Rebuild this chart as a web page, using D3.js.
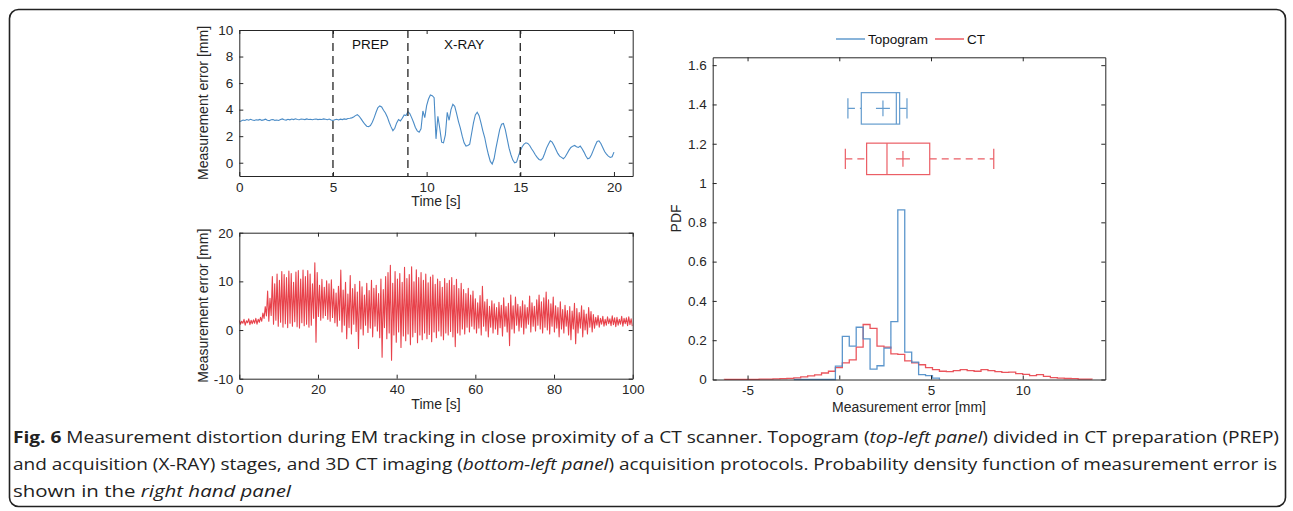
<!DOCTYPE html>
<html><head><meta charset="utf-8">
<script src="https://cdn.jsdelivr.net/npm/d3@7"></script>
<style>
html,body{margin:0;padding:0;background:#fff;}
svg{display:block;font-family:"Liberation Sans",Arial,Helvetica,sans-serif;}
</style></head>
<body><svg id="fig" width="1293" height="511"></svg>
<script>
// ---------------- DATA ----------------
// Top-left: topogram measurement error [mm], sampled every 0.1 s from 0 to 20 s
const topoDt = 0.1;
const topoValues = [
3.10,3.15,3.22,3.18,3.25,3.20,3.27,3.22,3.18,3.24,
3.21,3.26,3.19,3.23,3.28,3.20,3.17,3.24,3.26,3.19,
3.22,3.18,3.25,3.30,3.24,3.21,3.27,3.23,3.29,3.25,
3.31,3.26,3.24,3.29,3.27,3.25,3.30,3.26,3.28,3.24,
3.27,3.29,3.25,3.28,3.26,3.30,3.27,3.24,3.29,3.22,
3.18,3.24,3.27,3.22,3.28,3.25,3.30,3.27,3.33,3.35,
3.38,3.45,3.55,3.62,3.50,3.30,3.10,2.90,2.75,2.72,
2.80,3.05,3.40,3.80,4.15,4.28,4.20,3.95,3.75,3.45,
3.05,2.70,2.42,2.60,3.00,3.25,3.15,3.35,3.60,3.55,
3.85,3.70,3.40,3.05,2.65,2.40,2.30,2.55,3.90,3.40,
4.30,4.80,5.10,5.05,4.90,1.80,3.50,2.60,1.55,1.50,
2.10,3.80,3.20,4.00,4.40,4.25,3.70,3.10,2.60,2.00,
1.50,1.25,1.30,1.40,2.20,3.00,3.60,3.80,3.55,3.00,
2.40,1.90,1.20,0.60,0.10,-0.10,0.30,1.10,1.80,2.50,
2.90,2.95,2.50,1.80,1.10,0.60,0.20,0.00,0.05,0.50,
0.90,1.20,1.40,1.50,1.45,1.30,1.05,0.85,0.60,0.40,
0.25,0.20,0.35,0.70,1.10,1.40,1.65,1.55,1.30,1.00,
0.70,0.50,0.40,0.30,0.45,0.70,0.95,1.15,1.25,1.30,
1.20,1.15,1.25,1.05,0.80,0.50,0.30,0.35,0.60,0.95,
1.30,1.60,1.65,1.45,1.15,0.85,0.65,0.50,0.40,0.45,
0.80];
const stageLines = [5, 9, 15];
const stageLabels = [{text:"PREP", t:7}, {text:"X-RAY", t:12}];
const topoXTicks = [0,5,10,15,20];
const topoYTicks = [0,2,4,6,8,10];

// Bottom-left: CT measurement error [mm]; peaks at t = i*0.6 s, troughs at t = i*0.6 + 0.3 s
const ctHalfPeriod = 0.3;
const ctPeaks = [
2.0,1.8,2.2,1.9,2.3,2.0,2.1,2.4,2.2,2.6,
3.5,4.8,8.0,6.5,11.0,9.5,11.5,10.2,12.0,11.4,
10.8,12.1,11.6,9.8,11.9,12.2,10.5,12.3,11.0,12.2,
11.5,9.5,13.8,11.8,9.2,10.4,8.8,10.1,9.5,10.3,
8.4,7.6,9.0,12.3,8.2,9.8,7.4,11.2,8.5,9.4,
7.8,10.0,8.9,7.2,9.6,8.1,10.2,8.6,9.2,7.5,
10.5,8.3,11.0,11.8,13.3,9.6,12.0,10.5,11.6,9.8,
12.9,10.6,11.4,13.0,9.9,12.4,10.8,11.8,10.2,11.5,
9.7,10.9,11.3,9.4,10.5,10.0,8.8,10.6,9.6,10.2,
10.8,9.2,10.4,8.5,9.6,8.3,7.5,8.6,7.2,8.0,
6.4,5.6,7.1,9.0,5.8,6.3,4.9,6.0,5.4,4.6,
5.7,5.1,6.6,4.8,5.5,7.2,5.0,6.8,5.3,4.8,
6.0,5.2,4.6,7.0,5.6,4.9,6.2,7.2,5.8,6.6,
7.8,6.2,5.4,6.8,5.0,4.6,5.8,4.2,5.1,4.0,
4.8,3.9,5.5,4.4,3.6,5.0,4.1,3.3,4.6,3.8,
3.2,2.6,3.0,2.4,2.8,2.2,2.7,2.3,2.9,2.5,
2.6,2.2,2.8,2.4,2.5,2.7,2.3];
const ctTroughs = [
1.2,1.4,1.0,1.5,1.1,1.3,1.4,1.2,1.6,1.8,
2.4,2.9,1.8,3.0,1.2,2.0,0.8,1.6,0.6,1.3,
0.5,1.4,0.8,1.7,0.7,0.4,1.5,0.9,1.2,0.6,
1.0,2.4,-2.5,2.8,2.0,2.5,3.0,2.2,1.8,2.6,
1.5,0.8,2.0,-0.4,1.0,-1.8,0.5,-0.8,1.2,-0.3,
-3.8,0.2,-1.0,1.0,-0.5,0.4,-1.4,0.8,-0.2,-1.6,
-5.6,0.5,-1.8,-0.6,-6.2,-1.0,-2.5,-0.4,-3.6,-1.2,
-2.2,-0.8,-3.0,-1.4,-0.5,-2.6,-1.0,-2.0,-0.6,-1.8,
-0.9,-2.4,-0.4,-1.6,-0.2,-1.2,-2.0,-0.6,-1.0,-0.3,
-1.4,-3.4,-0.6,-1.0,0.2,-0.8,0.6,-0.4,0.8,0.2,
-0.6,0.4,-1.0,0.8,-0.2,-1.4,0.6,-0.6,0.2,-0.9,
0.5,-1.2,0.8,-0.4,-3.2,0.2,-0.6,1.0,-0.2,0.6,
-0.8,0.4,1.2,-0.4,0.8,-0.2,1.0,0.2,-0.6,0.6,
0.0,-0.8,0.8,-0.4,0.4,-1.4,0.2,-0.6,0.8,-1.0,
-2.0,0.2,-2.8,-0.6,0.4,-1.4,0.0,-0.8,0.6,-0.4,
0.4,1.0,0.6,1.2,0.8,1.0,1.3,0.9,1.1,0.7,
1.0,1.2,0.8,1.3,0.9,1.1,0.8];
const ctXTicks = [0,20,40,60,80,100];
const ctYTicks = [-10,0,10,20];

// Right: PDF histograms (stairs), common bin edges
const binStart = -6.26;
const binWidth = 0.378;
const ctPdf = [
0.001,0.001,0.001,0.001,0.001,0.002,0.002,0.003,0.004,0.006,
0.008,0.013,0.018,0.024,0.033,0.042,0.060,0.085,0.100,0.165,
0.280,0.260,0.170,0.165,0.130,0.128,0.095,0.085,0.075,0.060,
0.050,0.042,0.040,0.045,0.050,0.045,0.042,0.050,0.045,0.040,
0.036,0.038,0.030,0.026,0.020,0.025,0.016,0.010,0.007,0.005,
0.004,0.002,0.002];
const topoPdfStartBin = 10;
const topoPdf = [
0,0,0,0,0,0,0.068,0.220,0.170,0.266,
0.207,0.053,0.070,0.160,0.295,0.863,0.139,0.088,0.025,0.020,
0.007];
const pdfXTicks = [-5,0,5,10];
const pdfYTicks = [0,0.2,0.4,0.6,0.8,1,1.2,1.4,1.6];
// Box plot statistics (horizontal), placed at PDF heights
const boxNames = ["Topogram","CT"];
const boxLevels = [1.38, 1.123];
const boxLowWhisker = [0.47, 0.33];
const boxQ1 = [1.20, 1.49];
const boxMedian = [3.11, 2.60];
const boxQ3 = [3.29, 4.93];
const boxHighWhisker = [3.69, 8.42];
const boxMean = [2.38, 3.47];

const captionLines = [
  [{t:"Fig. 6",b:1},{t:" Measurement distortion during EM tracking in close proximity of a CT scanner. Topogram ("},{t:"top-left panel",i:1},{t:") divided in CT preparation (PREP)"}],
  [{t:"and acquisition (X-RAY) stages, and 3D CT imaging ("},{t:"bottom-left panel",i:1},{t:") acquisition protocols. Probability density function of measurement error is"}],
  [{t:"shown in the "},{t:"right hand panel",i:1}]
];

// ---------------- DRAWING ----------------
const BLUE = "#4a8bc6", RED = "#e8424b", AX = "#262626";
const svg = d3.select("#fig");
const hyph = f => (d => f(d).replace("\u2212","-"));

svg.append("rect").attr("x",9.5).attr("y",9.5).attr("width",1276).attr("height",497)
  .attr("rx",9).attr("fill","none").attr("stroke","#222").attr("stroke-width",1.6);

function frame(g, x, y, xTicks, yTicks, fmtX, fmtY){
  const [x0,x1] = x.range(), [y0,y1] = y.range();
  const mk = (ax) => ax.tickSizeInner(-4).tickSizeOuter(0).tickPadding(6);
  const style = sel => { sel.select(".domain").attr("stroke",AX).attr("stroke-width",1);
    sel.selectAll(".tick line").attr("stroke",AX);
    sel.selectAll("text").attr("fill",AX).attr("font-size",13.5).attr("font-family","Liberation Sans, Arial, sans-serif"); };
  g.append("g").attr("transform",`translate(0,${y0})`).call(mk(d3.axisBottom(x)).tickValues(xTicks).tickFormat(fmtX)).call(style);
  g.append("g").attr("transform",`translate(0,${y1})`).call(mk(d3.axisTop(x)).tickValues(xTicks).tickFormat("")).call(style);
  g.append("g").attr("transform",`translate(${x0},0)`).call(mk(d3.axisLeft(y)).tickValues(yTicks).tickFormat(fmtY)).call(style);
  g.append("g").attr("transform",`translate(${x1},0)`).call(mk(d3.axisRight(y)).tickValues(yTicks).tickFormat("")).call(style);
}
function labels(g, x, y, xl, yl, xlY, ylX){
  const [x0,x1] = x.range(), [y0,y1] = y.range();
  g.append("text").attr("x",(x0+x1)/2).attr("y",xlY).attr("text-anchor","middle")
    .attr("font-size",14).attr("fill",AX).text(xl);
  g.append("text").attr("transform",`translate(${ylX},${(y0+y1)/2}) rotate(-90)`).attr("text-anchor","middle")
    .attr("font-size",14).attr("fill",AX).text(yl);
}
function clip(id, x, y){
  const [x0,x1] = x.range(), [y0,y1] = y.range();
  svg.append("clipPath").attr("id",id).append("rect").attr("x",x0).attr("y",y1).attr("width",x1-x0).attr("height",y0-y1);
}

// --- Panel A: topogram
{
  const x = d3.scaleLinear().domain([0,21]).range([239.3,632.7]);
  const y = d3.scaleLinear().domain([-1,10]).range([176,30]);
  const g = svg.append("g");
  clip("cA",x,y);
  const pts = topoValues.map((v,i)=>[i*topoDt,v]);
  g.append("path").attr("clip-path","url(#cA)").attr("d",d3.line().x(d=>x(d[0])).y(d=>y(d[1]))(pts))
    .attr("fill","none").attr("stroke",BLUE).attr("stroke-width",1.1);
  g.selectAll("line.stage").data(stageLines).join("line").attr("class","stage")
    .attr("x1",d=>x(d)).attr("x2",d=>x(d)).attr("y1",y(10)).attr("y2",y(-1))
    .attr("stroke","#333").attr("stroke-width",1.4).attr("stroke-dasharray","8,5");
  g.selectAll("text.stage").data(stageLabels).join("text").attr("class","stage")
    .attr("x",d=>x(d.t)).attr("y",49).attr("text-anchor","middle").attr("font-size",13.5).attr("fill","#111").text(d=>d.text);
  frame(g,x,y,topoXTicks,topoYTicks,hyph(d3.format("d")),hyph(d3.format("d")));
  labels(g,x,y,"Time [s]","Measurement error [mm]",206,208);
}
// --- Panel B: CT
{
  const x = d3.scaleLinear().domain([0,100]).range([239.3,632.7]);
  const y = d3.scaleLinear().domain([-10,20]).range([378.7,232.7]);
  const g = svg.append("g");
  clip("cB",x,y);
  const pts = [];
  ctPeaks.forEach((p,i)=>{ pts.push([i*2*ctHalfPeriod,p]); if(i<ctTroughs.length) pts.push([(i*2+1)*ctHalfPeriod,ctTroughs[i]]); });
  g.append("path").attr("clip-path","url(#cB)").attr("d",d3.line().x(d=>x(d[0])).y(d=>y(d[1]))(pts))
    .attr("fill","none").attr("stroke",RED).attr("stroke-width",1.1).attr("stroke-linejoin","round");
  frame(g,x,y,ctXTicks,ctYTicks,hyph(d3.format("d")),hyph(d3.format("d")));
  labels(g,x,y,"Time [s]","Measurement error [mm]",409,208);
}
// --- Panel C: PDF
{
  const x = d3.scaleLinear().domain([-6.9,14.5]).range([712.7,1105.3]);
  const y = d3.scaleLinear().domain([0,1.64]).range([379.5,57.3]);
  const g = svg.append("g");
  function stairs(vals, startBin){
    const p = d3.path();
    const e0 = binStart + startBin*binWidth;
    p.moveTo(x(e0), y(0));
    vals.forEach((v,i)=>{ const a = binStart+(startBin+i)*binWidth; p.lineTo(x(a),y(v)); p.lineTo(x(a+binWidth),y(v)); });
    p.lineTo(x(binStart+(startBin+vals.length)*binWidth), y(0));
    return p.toString();
  }
  g.append("path").attr("d",stairs(ctPdf,0)).attr("fill","none").attr("stroke",RED).attr("stroke-width",1.3).attr("opacity",0.9);
  g.append("path").attr("d",stairs(topoPdf,topoPdfStartBin)).attr("fill","none").attr("stroke",BLUE).attr("stroke-width",1.3).attr("opacity",0.9);
  const half = 0.08, cap = 0.052, plus = 0.04;
  boxNames.forEach((n,i)=>{
    const c = i===0 ? BLUE : RED;
    const b = g.append("g").attr("stroke",c).attr("fill","none").attr("stroke-width",1.2).attr("opacity",0.85);
    const L = boxLevels[i];
    b.append("rect").attr("x",x(boxQ1[i])).attr("y",y(L+half)).attr("width",x(boxQ3[i])-x(boxQ1[i])).attr("height",y(L-half)-y(L+half));
    b.append("line").attr("x1",x(boxMedian[i])).attr("x2",x(boxMedian[i])).attr("y1",y(L+half)).attr("y2",y(L-half));
    b.append("line").attr("x1",x(boxLowWhisker[i])).attr("x2",x(boxQ1[i])).attr("y1",y(L)).attr("y2",y(L)).attr("stroke-dasharray","7,5");
    b.append("line").attr("x1",x(boxQ3[i])).attr("x2",x(boxHighWhisker[i])).attr("y1",y(L)).attr("y2",y(L)).attr("stroke-dasharray","7,5");
    [boxLowWhisker[i],boxHighWhisker[i]].forEach(w=>b.append("line").attr("x1",x(w)).attr("x2",x(w)).attr("y1",y(L+cap)).attr("y2",y(L-cap)));
    const mx = x(boxMean[i]), my = y(L);
    b.append("line").attr("x1",mx-7).attr("x2",mx+7).attr("y1",my).attr("y2",my);
    b.append("line").attr("x1",mx).attr("x2",mx).attr("y1",y(L+plus)).attr("y2",y(L-plus));
  });
  frame(g,x,y,pdfXTicks,pdfYTicks,hyph(d3.format("d")),hyph(d3.format("~g")));
  labels(g,x,y,"Measurement error [mm]","PDF",412,681);
  // legend
  const leg = [{n:"Topogram",c:BLUE,x:836},{n:"CT",c:RED,x:935}];
  leg.forEach(l=>{
    g.append("line").attr("x1",l.x).attr("x2",l.x+29).attr("y1",39).attr("y2",39).attr("stroke",l.c).attr("stroke-width",1.3);
    g.append("text").attr("x",l.x+32).attr("y",44).attr("font-size",13.5).attr("fill","#111").text(l.n);
  });
}
// --- Caption
const capW = [1266, 1264, 278];
captionLines.forEach((line,k)=>{
  const t = svg.append("text").attr("x",13).attr("y",443+k*27)
    .attr("font-family","'Liberation Sans Narrow','Open Sans',sans-serif").attr("font-size",16).attr("fill","#222")
    .attr("textLength",capW[k]).attr("lengthAdjust","spacingAndGlyphs");
  line.forEach(s=>{ const ts = t.append("tspan").text(s.t); if(s.b) ts.attr("font-weight","bold"); if(s.i) ts.attr("font-style","italic"); });
});
</script></body></html>
